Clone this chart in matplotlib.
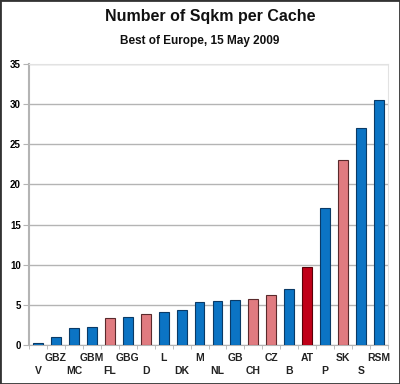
import matplotlib.pyplot as plt
from matplotlib.patches import Rectangle

plt.rcParams['font.family'] = ['Liberation Sans', 'DejaVu Sans']

countries = ['V', 'GBZ', 'MC', 'GBM', 'FL', 'GBG', 'D', 'L', 'DK', 'M',
             'NL', 'GB', 'CH', 'CZ', 'B', 'AT', 'P', 'SK', 'S', 'RSM']
sqkm_per_cache = [0.25, 1.03, 2.08, 2.28, 3.4, 3.5, 3.86, 4.1, 4.3, 5.4,
                  5.5, 5.64, 5.77, 6.2, 6.93, 9.67, 17.1, 23.0, 27.0, 30.5]
groups = ['b', 'b', 'b', 'b', 'p', 'b', 'p', 'b', 'b', 'b',
          'b', 'b', 'p', 'p', 'b', 'r', 'b', 'p', 'b', 'b']

fill = {'b': '#0b74c4', 'p': '#e07b80', 'r': '#c00018'}
edge = {'b': '#0a3a66', 'p': '#5a2a2c', 'r': '#5a0008'}

fig = plt.figure(figsize=(4.0, 3.84), dpi=100)
ax = fig.add_axes([29 / 400, 1 - 345 / 384, 359 / 400, 281 / 384])

x = list(range(len(countries)))
ax.bar(x, sqkm_per_cache, width=0.55,
       color=[fill[g] for g in groups],
       edgecolor=[edge[g] for g in groups], linewidth=0.8, zorder=3)

ax.set_xlim(-0.5, len(countries) - 0.5)
ax.set_ylim(0, 35)
ax.set_yticks(range(0, 36, 5))
ax.yaxis.grid(True, color='#b4b4b4', linewidth=1.0, zorder=0)
ax.tick_params(axis='y', length=4, color='#b4b4b4', labelsize=7, pad=2)
for lab in ax.get_yticklabels():
    lab.set_fontweight('bold')

# minor ticks between bars, labels staggered on two rows
ax.set_xticks([i - 0.5 for i in range(len(countries) + 1)], minor=True)
ax.tick_params(axis='x', which='minor', length=3, color='#b4b4b4')
ax.set_xticks(x)
ax.set_xticklabels([])
ax.tick_params(axis='x', which='major', length=0)
for i, name in enumerate(countries):
    dy = -13 / 281 if i % 2 else -25.5 / 281
    ax.text(i, dy, name, transform=ax.get_xaxis_transform(),
            ha='center', va='center', fontsize=7.5, fontweight='bold',
            color='#222222')

for side in ['top', 'right']:
    ax.spines[side].set_color('#e2e2e2')
ax.spines['left'].set_color('#b4b4b4')
ax.spines['left'].set_linewidth(1.5)
ax.spines['bottom'].set_color('#b4b4b4')

fig.text(0.525, 1 - 17 / 384, 'Number of Sqkm per Cache', ha='center',
         va='center', fontsize=11.5, fontweight='bold', color='#111111')
fig.text(0.498, 1 - 41 / 384, 'Best of Europe, 15 May 2009', ha='center',
         va='center', fontsize=8.5, fontweight='bold', color='#111111')

fig.patches.append(Rectangle((0, 0), 1, 1, transform=fig.transFigure,
                             fill=False, edgecolor='#333333', linewidth=2))

fig.savefig('out.png', dpi=100)
